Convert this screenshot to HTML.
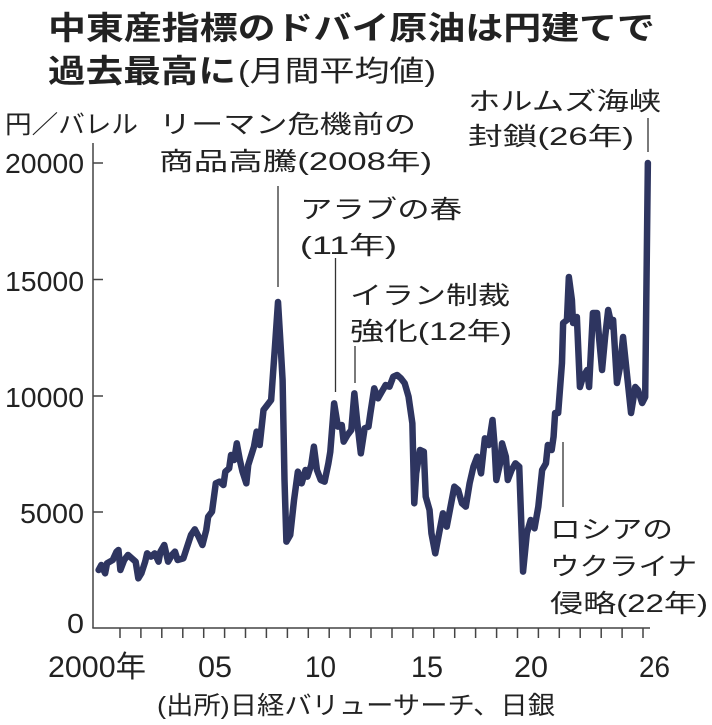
<!DOCTYPE html>
<html><head><meta charset="utf-8"><style>
html,body{margin:0;padding:0;background:#fff;}
svg{display:block;}
text{font-family:"Liberation Sans","Noto Sans CJK JP",sans-serif;fill:#222;}
</style></head><body>
<svg width="712" height="725" viewBox="0 0 712 725" xmlns="http://www.w3.org/2000/svg">
<text x="48" y="39" font-size="32" font-weight="bold" textLength="607" lengthAdjust="spacingAndGlyphs">中東産指標のドバイ原油は円建てで</text>
<text x="48" y="82" font-size="32" font-weight="bold" textLength="188" lengthAdjust="spacingAndGlyphs">過去最高に</text>
<text x="238" y="81" font-size="29" textLength="198" lengthAdjust="spacingAndGlyphs">(月間平均値)</text>

<text x="5" y="133" font-size="25" textLength="133" lengthAdjust="spacingAndGlyphs">円／バレル</text>
<text x="159" y="133" font-size="25" textLength="257" lengthAdjust="spacingAndGlyphs">リーマン危機前の</text>
<text x="159" y="170" font-size="25" textLength="273" lengthAdjust="spacingAndGlyphs">商品高騰(2008年)</text>
<text x="468" y="110" font-size="25" textLength="193" lengthAdjust="spacingAndGlyphs">ホルムズ海峡</text>
<text x="468" y="145" font-size="25" textLength="166" lengthAdjust="spacingAndGlyphs">封鎖(26年)</text>
<text x="300" y="218" font-size="25" textLength="162" lengthAdjust="spacingAndGlyphs">アラブの春</text>
<text x="300" y="254" font-size="25" textLength="97" lengthAdjust="spacingAndGlyphs">(11年)</text>
<text x="350" y="304" font-size="25" textLength="160" lengthAdjust="spacingAndGlyphs">イラン制裁</text>
<text x="350" y="340" font-size="25" textLength="162" lengthAdjust="spacingAndGlyphs">強化(12年)</text>
<text x="550" y="538" font-size="25" textLength="123" lengthAdjust="spacingAndGlyphs">ロシアの</text>
<text x="550" y="575" font-size="25" textLength="147" lengthAdjust="spacingAndGlyphs">ウクライナ</text>
<text x="550" y="612" font-size="25" textLength="158" lengthAdjust="spacingAndGlyphs">侵略(22年)</text>

<g stroke="#333" stroke-width="1.3">
<line x1="278" y1="186" x2="278" y2="287"/>
<line x1="335.5" y1="258" x2="335.5" y2="392"/>
<line x1="355" y1="346" x2="355" y2="383"/>
<line x1="648" y1="118" x2="648" y2="152"/>
<line x1="563" y1="442" x2="563" y2="507"/>
</g>

<g font-size="28">
<text x="5" y="173" textLength="79" lengthAdjust="spacingAndGlyphs">20000</text>
<text x="5" y="291" textLength="79" lengthAdjust="spacingAndGlyphs">15000</text>
<text x="5" y="407" textLength="79" lengthAdjust="spacingAndGlyphs">10000</text>
<text x="20" y="523" textLength="64" lengthAdjust="spacingAndGlyphs">5000</text>
<text x="67" y="633" textLength="17" lengthAdjust="spacingAndGlyphs">0</text>
</g>

<g stroke="#444" stroke-width="1.5" fill="none">
<line x1="93" y1="143" x2="93" y2="628"/>
<line x1="92.3" y1="628" x2="650" y2="628"/>
<line x1="93" y1="163" x2="103" y2="163"/>
<line x1="93" y1="279.5" x2="103" y2="279.5"/>
<line x1="93" y1="396" x2="103" y2="396"/>
<line x1="93" y1="512" x2="103" y2="512"/>
<path d="M120 628v10M140.9 628v10M161.8 628v10M182.8 628v10M203.7 628v10M224.6 628v10M245.5 628v10M266.4 628v10M287.4 628v10M308.3 628v10M329.2 628v10M350.1 628v10M371 628v10M392 628v10M412.9 628v10M433.8 628v10M454.7 628v10M475.6 628v10M496.6 628v10M517.5 628v10M538.4 628v10M559.3 628v10M580.2 628v10M601.2 628v10M622.1 628v10M643 628v10"/>
</g>

<g font-size="30">
<text x="48" y="677" textLength="98" lengthAdjust="spacingAndGlyphs">2000年</text>
<text x="198" y="677" textLength="34" lengthAdjust="spacingAndGlyphs">05</text>
<text x="305" y="677" textLength="31" lengthAdjust="spacingAndGlyphs">10</text>
<text x="411" y="677" textLength="32" lengthAdjust="spacingAndGlyphs">15</text>
<text x="514" y="677" textLength="34" lengthAdjust="spacingAndGlyphs">20</text>
<text x="639" y="677" textLength="31" lengthAdjust="spacingAndGlyphs">26</text>
</g>
<text x="157" y="714" font-size="25" textLength="398" lengthAdjust="spacingAndGlyphs">(出所)日経バリューサーチ、日銀</text>

<g transform="translate(80.3,380) scale(0.38168,0.33333)">
<polyline vector-effect="non-scaling-stroke" fill="none" stroke="#2e3560" stroke-width="6.5" stroke-linejoin="round" stroke-linecap="round"
points="48,570 55,555 65,580 70,550 85,540 95,515 100,510 105,570 115,540 125,525 135,535 145,545 152,595 160,580 170,545 175,520 185,530 195,520 205,545 210,515 220,495 230,545 240,525 248,515 255,540 270,535 280,500 290,465 300,448 310,470 320,495 330,450 335,410 345,395 355,310 365,305 375,315 380,275 390,265 395,225 403,240 410,190 418,240 425,275 435,310 440,255 455,200 462,155 470,195 480,90 490,75 500,60 510,-100 518,-234 525,-100 530,0 535,300 540,485 550,465 560,360 570,275 580,310 590,270 595,290 605,255 612,200 620,270 630,300 640,305 650,250 655,215 665,70 675,140 685,135 690,185 700,165 710,150 718,40 725,120 735,220 745,145 755,140 760,100 770,25 780,55 790,35 800,15 810,20 820,-10 830,-15 840,-5 850,10 860,50 870,130 875,370 880,280 890,210 900,215 905,350 915,390 920,460 930,520 940,460 950,400 960,440 970,380 980,320 990,330 1000,370 1010,380 1020,310 1030,260 1040,230 1050,280 1060,175 1070,195 1080,120 1085,190 1090,300 1100,250 1105,190 1115,230 1120,300 1130,270 1140,250 1150,260 1160,575 1170,460 1180,420 1190,445 1200,380 1210,270 1220,250 1225,195 1235,210 1240,170 1244,99 1252,99 1262,-51 1265,-171 1275,-180 1280,-309 1288,-240 1291,-171 1301,-189 1309,21 1317,-9 1328,-30 1333,21 1343,-201 1354,-201 1359,-129 1367,-30 1375,-129 1383,-210 1393,-159 1396,-180 1406,9 1414,-39 1422,-129 1433,-9 1443,99 1454,21 1461,30 1472,69 1480,51 1487,-651"/>
</g>
</svg>
</body></html>
